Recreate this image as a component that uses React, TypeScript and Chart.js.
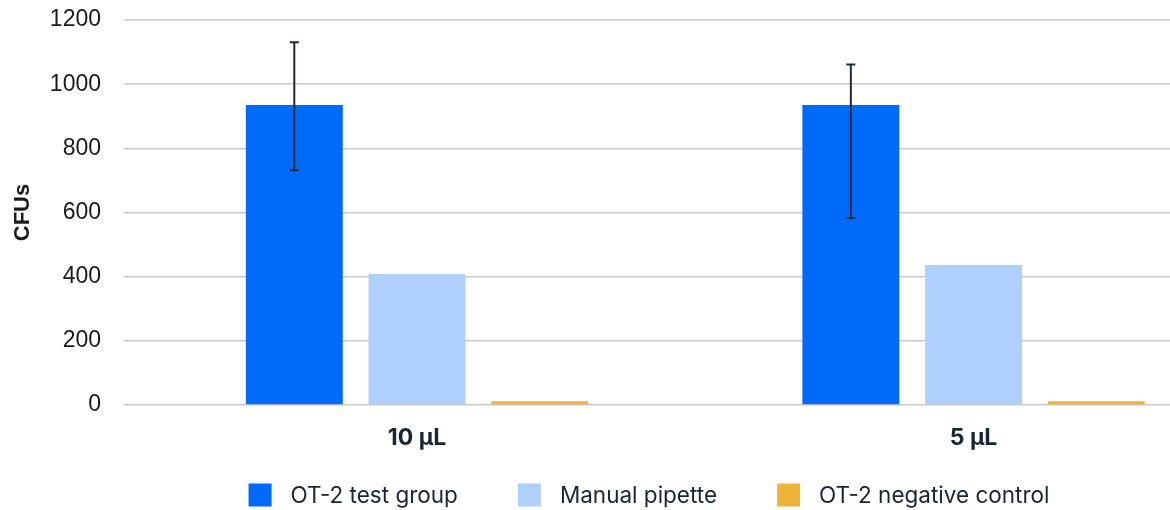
import React, { useEffect, useRef } from "react";
import { Chart, registerables } from "chart.js";

Chart.register(...registerables);

const categories = ["10 μL", "5 μL"];
const seriesNames = ["OT-2 test group", "Manual pipette", "OT-2 negative control"];
const testGroup = [935, 935];
const manualPipette = [408, 436];
const negativeControl = [12, 12];
const testErrLow = [732, 583];
const testErrHigh = [1131, 1061];
const yTicks = [0, 200, 400, 600, 800, 1000, 1200];

const colors = ["#006BFA", "#AFCFFD", "#EEB33B"];
const textDark = "#1B2434";

const errorBarPlugin = {
  id: "errorBars",
  afterDatasetsDraw(chart: any) {
    const meta = chart.getDatasetMeta(0);
    const y = chart.scales.y;
    const ctx = chart.ctx;
    ctx.save();
    ctx.strokeStyle = "#1F2937";
    ctx.lineWidth = 2;
    meta.data.forEach((bar: any, i: number) => {
      const x = bar.x;
      const yl = y.getPixelForValue(testErrLow[i]);
      const yh = y.getPixelForValue(testErrHigh[i]);
      ctx.beginPath();
      ctx.moveTo(x, yl);
      ctx.lineTo(x, yh);
      ctx.moveTo(x - 4.5, yl);
      ctx.lineTo(x + 4.5, yl);
      ctx.moveTo(x - 4.5, yh);
      ctx.lineTo(x + 4.5, yh);
      ctx.stroke();
    });
    ctx.restore();
  },
};

const legendPlugin = {
  id: "customLegend",
  afterDraw(chart: any) {
    const ctx = chart.ctx;
    const area = chart.chartArea;
    const box = 23;
    const boxGap = 19;
    const itemGap = 60;
    ctx.save();
    ctx.font = "400 22.5px Inter";
    ctx.textBaseline = "middle";
    ctx.textAlign = "left";
    const widths = seriesNames.map((n) => ctx.measureText(n).width);
    const total =
      widths.reduce((a, b) => a + b, 0) + seriesNames.length * (box + boxGap) + (seriesNames.length - 1) * itemGap;
    let x = (area.left + area.right - total) / 2 + 2;
    const cy = 495;
    seriesNames.forEach((n, i) => {
      ctx.fillStyle = colors[i];
      ctx.fillRect(x, cy - box / 2, box, box);
      ctx.fillStyle = textDark;
      ctx.fillText(n, x + box + boxGap, cy + 1);
      x += box + boxGap + widths[i] + itemGap;
    });
    ctx.restore();
  },
};

export default function App() {
  const ref = useRef<HTMLCanvasElement | null>(null);
  useEffect(() => {
    document.body.style.margin = "0";
    const toPoints = (arr: number[]) => arr.map((v, i) => ({ x: i, y: v }));
    const common = { categoryPercentage: 0.6615, barPercentage: 0.79, borderWidth: 0 };
    const chart = new Chart(ref.current as HTMLCanvasElement, {
      type: "bar",
      data: {
        datasets: [
          { label: seriesNames[0], data: toPoints(testGroup), backgroundColor: colors[0], ...common },
          { label: seriesNames[1], data: toPoints(manualPipette), backgroundColor: colors[1], ...common },
          { label: seriesNames[2], data: toPoints(negativeControl), backgroundColor: colors[2], ...common },
        ],
      },
      options: {
        animation: false,
        responsive: false,
        layout: { padding: { top: 20, right: 0, bottom: 0, left: 0 } },
        plugins: { legend: { display: false }, tooltip: { enabled: false } },
        scales: {
          x: {
            type: "linear",
            min: -0.5265,
            max: 1.353,
            offset: false,
            grid: { display: false, drawTicks: false },
            border: { display: false },
            afterBuildTicks: (scale: any) => {
              scale.ticks = categories.map((_, i) => ({ value: i }));
            },
            afterFit: (scale: any) => {
              scale.height = 105;
              scale.paddingLeft = 0;
              scale.paddingRight = 0;
            },
            ticks: {
              autoSkip: false,
              maxRotation: 0,
              padding: 19,
              color: textDark,
              font: { family: "Inter", size: 23, weight: "bold" },
              callback: (v: any) => categories[v] ?? "",
            },
          },
          y: {
            min: 0,
            max: 1200,
            afterBuildTicks: (scale: any) => {
              scale.ticks = yTicks.map((v) => ({ value: v }));
            },
            afterFit: (scale: any) => {
              scale.width = 124;
              scale.paddingTop = 0;
              scale.paddingBottom = 0;
            },
            grid: { color: "#C8C8C8", lineWidth: 1.5, drawTicks: false },
            border: { display: false },
            ticks: {
              padding: 23,
              color: "#1A1A1A",
              font: { family: "Liberation Sans", size: 23 },
              callback: (v: any) => String(v),
            },
            title: {
              display: true,
              text: "CFUs",
              color: "#1A1A1A",
              font: { family: "Liberation Sans", size: 22, weight: "bold" },
              padding: { top: 10, bottom: 0 },
            },
          },
        },
      } as any,
      plugins: [errorBarPlugin, legendPlugin],
    });
    return () => chart.destroy();
  }, []);
  return <canvas ref={ref} width={1170} height={510} style={{ display: "block" }} />;
}
